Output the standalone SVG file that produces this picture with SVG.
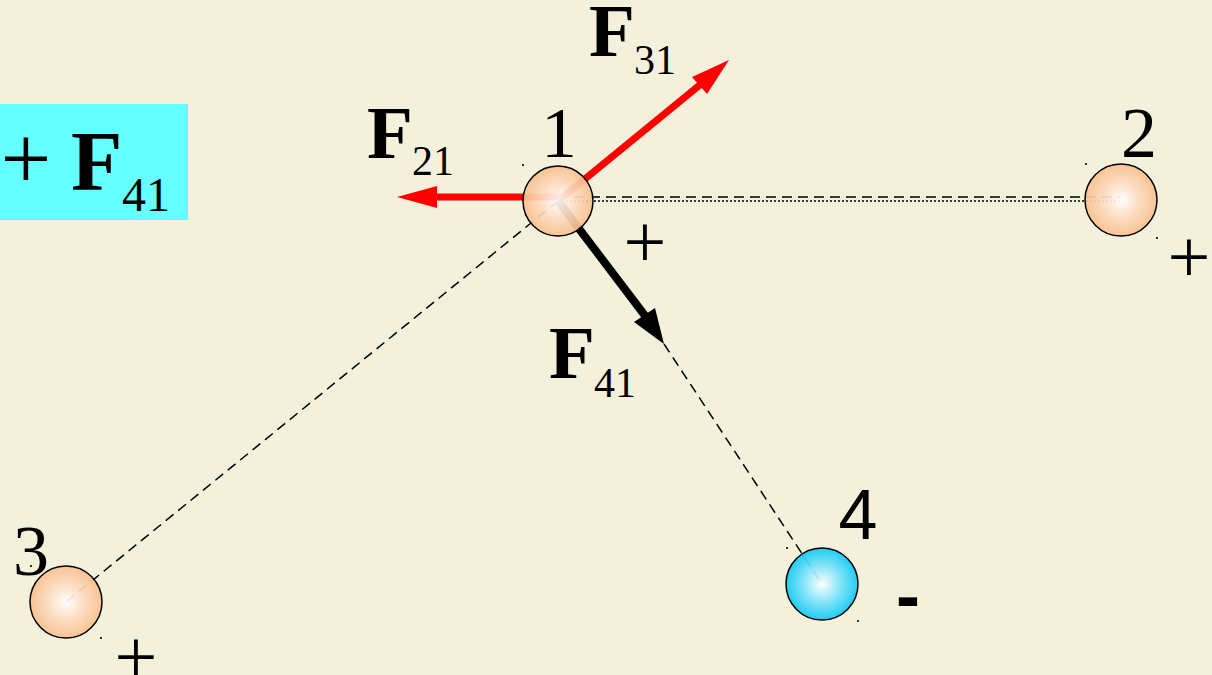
<svg xmlns="http://www.w3.org/2000/svg" width="1212" height="675" viewBox="0 0 1212 675">
<defs>
<radialGradient id="gPeach" cx="50%" cy="50%" r="50%">
<stop offset="0" stop-color="#FFFFFF"/>
<stop offset="0.5" stop-color="#FDDCC0"/>
<stop offset="1" stop-color="#F8C08E"/>
</radialGradient>
<radialGradient id="gBlue" cx="50%" cy="50%" r="50%">
<stop offset="0" stop-color="#FFFFFF"/>
<stop offset="0.5" stop-color="#7FE4FA"/>
<stop offset="1" stop-color="#0FCAF5"/>
</radialGradient>
<style>
.bg{fill:#F3F0DC}
.ball{stroke:#000;stroke-width:1.5}
.peach{fill:url(#gPeach);fill-opacity:0.92}
.blue{fill:url(#gBlue);fill-opacity:0.92}
.dash{stroke:#000;stroke-width:1.5;stroke-dasharray:10 6;fill:none}
.dot{stroke:#000;stroke-width:1.5;stroke-dasharray:2 2;fill:none}
.num{font-family:"Liberation Serif","Times New Roman",serif;font-size:72px;fill:#000}
.numsans{font-family:"Liberation Sans",Arial,sans-serif;font-size:70px;fill:#000}
.plus{font-family:"Liberation Serif","Times New Roman",serif;font-size:76px;fill:#000;text-anchor:middle}
.F{font-family:"Liberation Serif","Times New Roman",serif;font-weight:bold;font-size:75px;fill:#000}
.sub{font-family:"Liberation Serif","Times New Roman",serif;font-size:42px;fill:#000}
.speck{fill:#333}
</style>
</defs>
<rect class="bg" x="0" y="0" width="1212" height="675"/>

<g id="formula">
<rect x="0" y="104" width="188" height="116" fill="#66FFFF"/>
<text class="plus" x="26" y="189" style="font-size:90px">+</text>
<text class="F" x="71" y="190" style="font-size:84px">F</text>
<text class="sub" x="122" y="211" style="font-size:48px">41</text>
</g>

<g id="connectors">
<line class="dash" x1="558" y1="197" x2="1121" y2="197"/>
<line class="dot" x1="558" y1="201" x2="1121" y2="201"/>
<line class="dash" x1="558" y1="201" x2="66" y2="602"/>
<line class="dash" x1="664" y1="344" x2="822" y2="584"/>
<line x1="558" y1="197" x2="434" y2="197" stroke="#FF0000" stroke-width="7"/>
<polygon points="397,197 437,186 437,208" fill="#FF0000"/>
<line x1="558" y1="201" x2="701" y2="84" stroke="#FF0000" stroke-width="7"/>
<polygon points="729,60 692,77 707,94" fill="#FF0000"/>
<line x1="558" y1="201" x2="646" y2="317" stroke="#000" stroke-width="8"/>
<polygon points="664,344 634,322 655,308" fill="#000"/>
</g>

<g id="node1">
<circle class="ball peach" cx="558" cy="201" r="35"/>
<text class="num" x="559" y="157" text-anchor="middle">1</text>
<text class="plus" x="645" y="267">+</text>
<rect class="speck" x="522" y="164" width="2" height="2"/>
</g>

<g id="node2">
<circle class="ball peach" cx="1121" cy="200" r="36"/>
<text class="num" x="1139" y="157" text-anchor="middle">2</text>
<text class="plus" x="1189" y="282">+</text>
<rect class="speck" x="1085" y="163" width="2" height="2"/>
<rect class="speck" x="1156" y="237" width="2" height="2"/>
</g>

<g id="node3">
<circle class="ball peach" cx="66" cy="602" r="36"/>
<text class="num" x="31" y="575" text-anchor="middle">3</text>
<text class="plus" x="136" y="682">+</text>
<rect class="speck" x="30" y="565" width="2" height="2"/>
<rect class="speck" x="100" y="637" width="2" height="2"/>
</g>

<g id="node4">
<circle class="ball blue" cx="822" cy="584" r="36"/>
<text class="numsans" x="858" y="539" text-anchor="middle">4</text>
<text class="numsans" x="896" y="620" style="font-weight:bold;font-size:72px">-</text>
<rect class="speck" x="786" y="547" width="2" height="2"/>
<rect class="speck" x="857" y="620" width="2" height="2"/>
</g>

<g id="labels">
<text class="F" x="367" y="158">F</text>
<text class="sub" x="412" y="175">21</text>
<text class="F" x="589" y="56">F</text>
<text class="sub" x="634" y="74">31</text>
<text class="F" x="549" y="378">F</text>
<text class="sub" x="594" y="397">41</text>
</g>
</svg>
